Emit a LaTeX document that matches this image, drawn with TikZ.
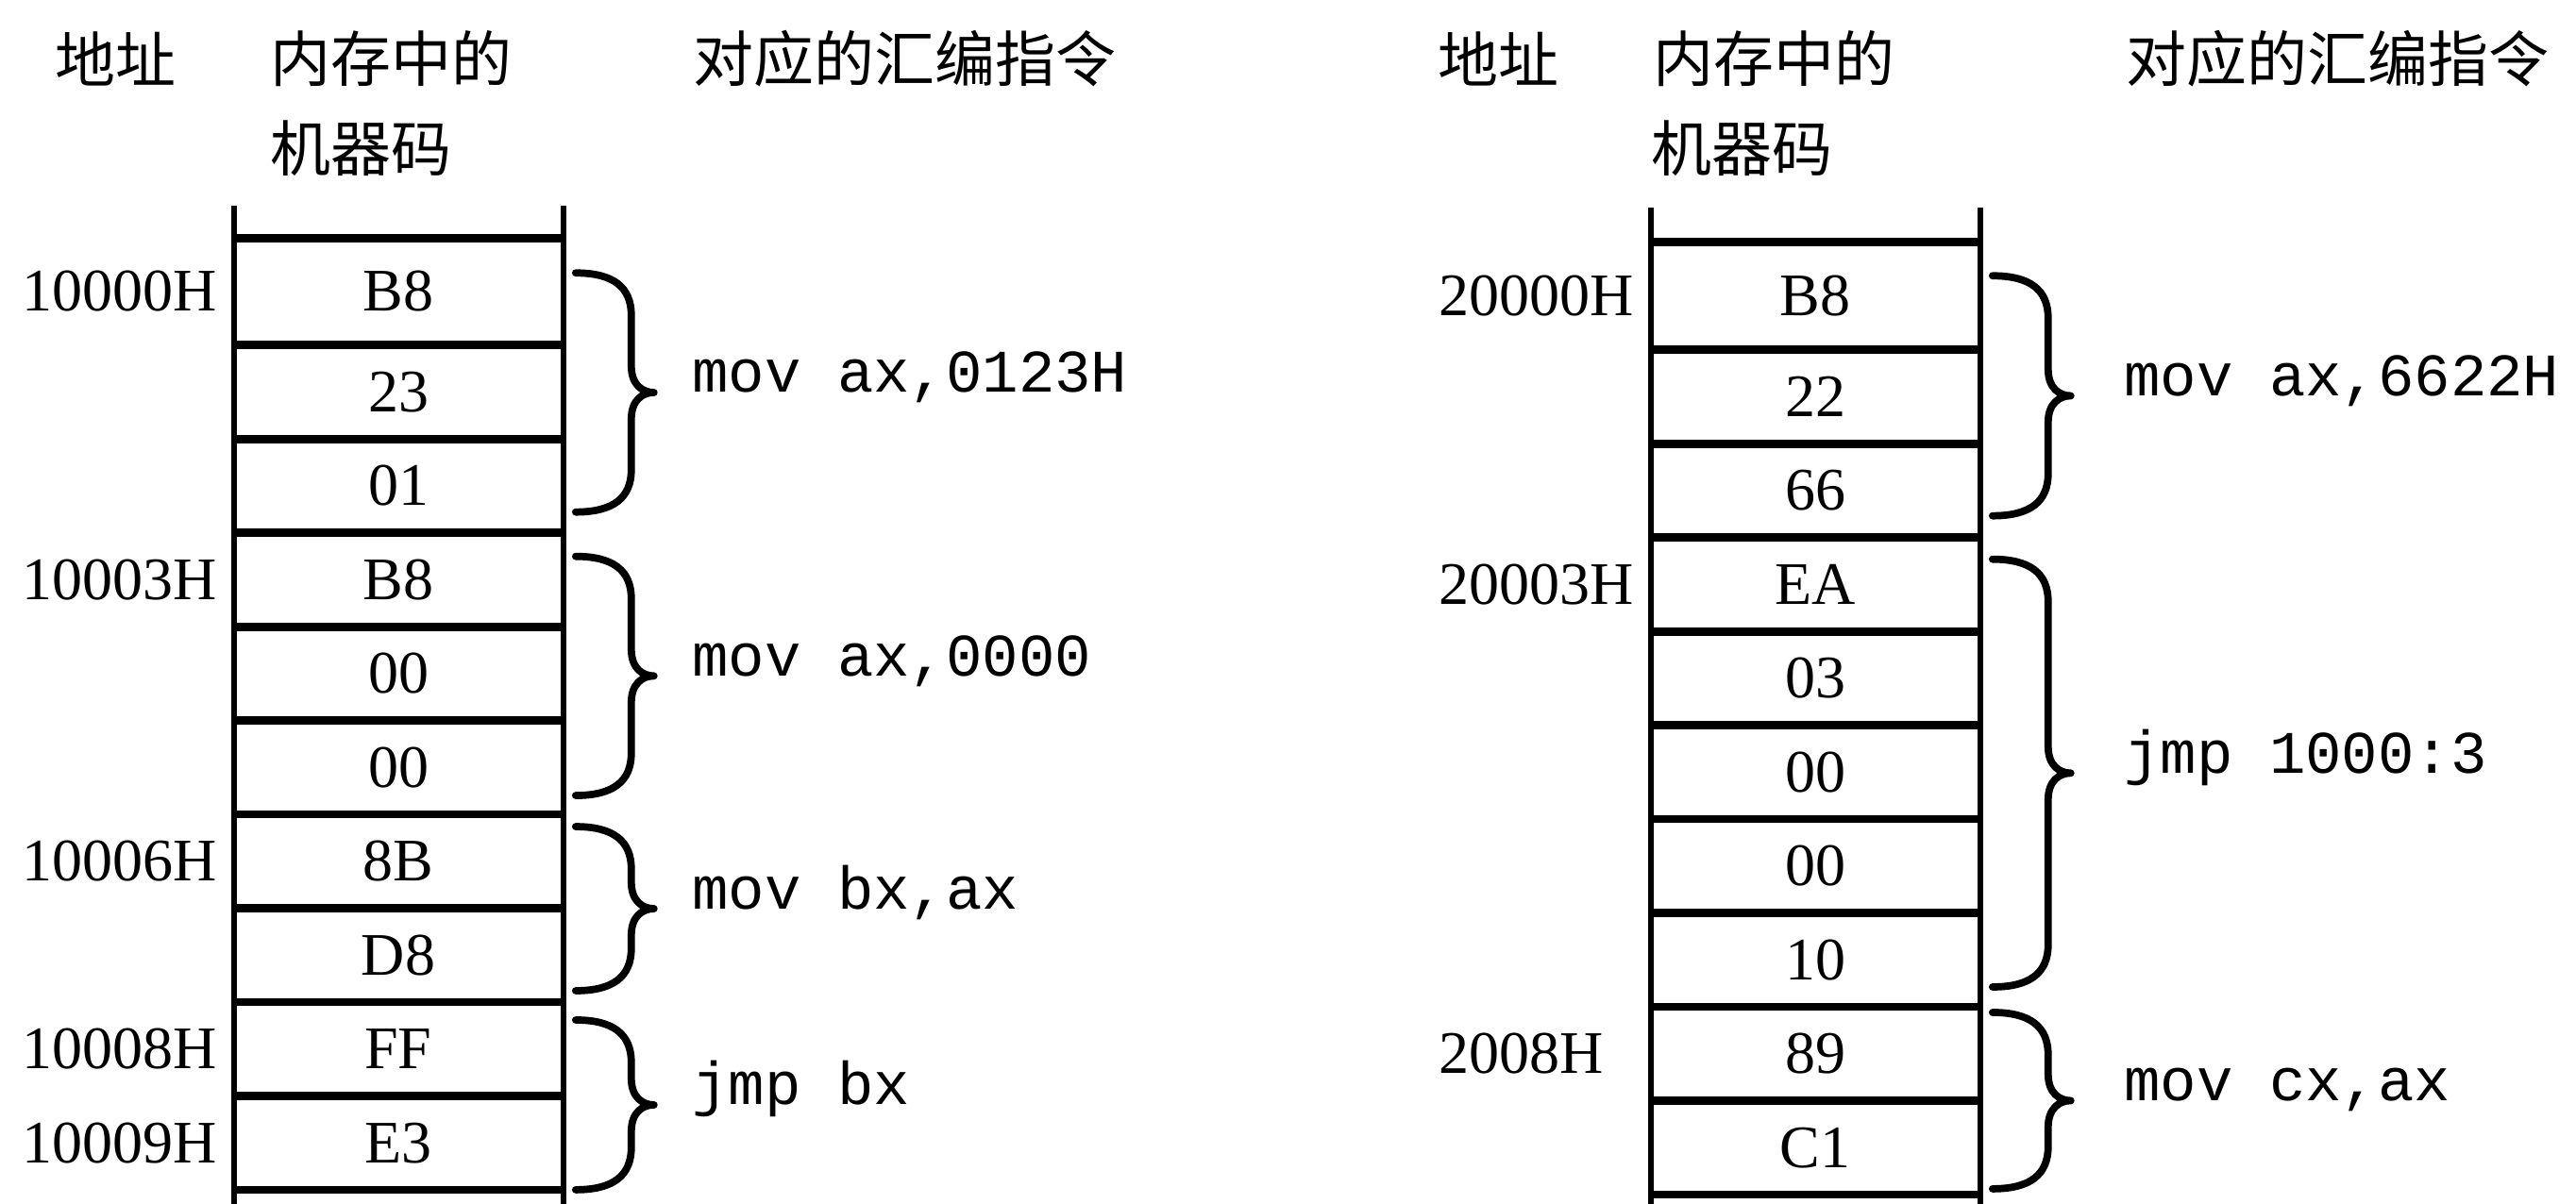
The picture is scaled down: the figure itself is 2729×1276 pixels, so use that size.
\documentclass[tikz,border=0pt]{standalone}
\usepackage{fontspec}
\setmainfont{Liberation Serif}
\setmonofont{Liberation Mono}
\newfontfamily\cjk{Noto Sans CJK SC}
\usetikzlibrary{positioning, calc}

\begin{document}
\begin{tikzpicture}[x=0.01cm, y=-0.01cm,
  cell/.style={minimum width=3.48cm, minimum height=0.98cm, inner sep=0pt, font=\fontsize{18.2}{22}\selectfont},
  addr/.style={text width=2.07cm, align=left, inner sep=0pt, font=\fontsize{18.2}{22}\selectfont},
  head/.style={anchor=west, inner sep=0pt, font=\cjk\fontsize{18.2}{22}\selectfont},
  asm/.style={anchor=base west, inner sep=0pt, font=\ttfamily\fontsize{18.2}{22}\selectfont},
  hline/.style={line width=2.5pt},
  vline/.style={line width=1.7pt},
  curly/.style={line width=2.2pt, line cap=round, line join=round}]
\useasboundingbox (0,0) rectangle (2729,1276);

% column headers
\node[head] (hl1) at (58,62) {地址};
\node[head] (hl2) at (286,62) {内存中的};
\node[head] (hl3) at (286,157) {机器码};
\node[head] (hl4) at (734,62) {对应的汇编指令};
\node[head] (hr1) at (1523,62) {地址};
\node[head] (hr2) at (1751,62) {内存中的};
\node[head] (hr3) at (1749,157) {机器码};
\node[head] (hr4) at (2252,62) {对应的汇编指令};

% memory cells, left
\node[cell, minimum height=1.12cm] (l1) at (422,309) {B8};
\foreach \b [count=\i from 2, remember=\i as \j (initially 1)] in {23,01,B8,00,00,8B,D8,FF,E3}
  \node[cell, below=0pt of l\j] (l\i) {\b};

% memory cells, right
\node[cell, minimum height=1.13cm] (r1) at (1923,313.5) {B8};
\foreach \b [count=\i from 2, remember=\i as \j (initially 1)] in {22,66,EA,03,00,00,10,89,C1}
  \node[cell, below=0pt of r\j] (r\i) {\b};

% cell borders
\foreach \s in {l,r} {
  \foreach \i in {1,...,10}
    \draw[hline] (\s\i.north west) -- (\s\i.north east);
  \draw[hline] (\s10.south west) -- (\s10.south east);
}
\coordinate (ltop) at (248,218);
\coordinate (lbot) at (248,1276);
\draw[vline] (ltop) -- (lbot);
\draw[vline] (ltop -| l1.east) -- (lbot -| l1.east);
\coordinate (rtop) at (1749,220);
\coordinate (rbot) at (1749,1276);
\draw[vline] (rtop) -- (rbot);
\draw[vline] (rtop -| r1.east) -- (rbot -| r1.east);

% addresses
\foreach \c/\t in {l1/10000H, l4/10003H, l7/10006H, l9/10008H, l10/10009H,
                   r1/20000H, r4/20003H, r9/2008H}
  \node[addr, left=1.6mm of \c] (a\c) {\t};

% braces and instructions
\foreach \a/\b/\ti/\bi/\g/\txt in {l1/l3/37/22/40/{mov ax,0123H},
    l4/l6/25/20/40/{mov ax,0000}, l7/l8/13/12/40/{mov bx,ax},
    l9/l10/19/0/40/{jmp bx}, r1/r3/36/23/56/{mov ax,6622H},
    r4/r8/23/21/56/{jmp 1000:3}, r9/r10/6/6/56/{mov cx,ax}} {
  \coordinate (p) at ($(\a.north east)+(13,\ti)$);
  \coordinate (q) at ($(\b.south east)+(13,-\bi)$);
  \coordinate (m) at ($(p)!0.5!(q)+(83,0)$);
  \draw[curly] (p) .. controls +(40,0) and +(0,-30) .. ($(p)+(59,45)$)
    -- ($(m)+(-24,-28)$) .. controls +(0,20) and +(-12,0) .. (m)
    .. controls +(-12,0) and +(0,-20) .. ($(m)+(-24,28)$)
    -- ($(q)+(59,-45)$) .. controls +(0,30) and +(40,0) .. (q);
  \node[asm] (t\a) at ($(m)+(\g,0)$) {\txt};
}
\end{tikzpicture}
\end{document}
